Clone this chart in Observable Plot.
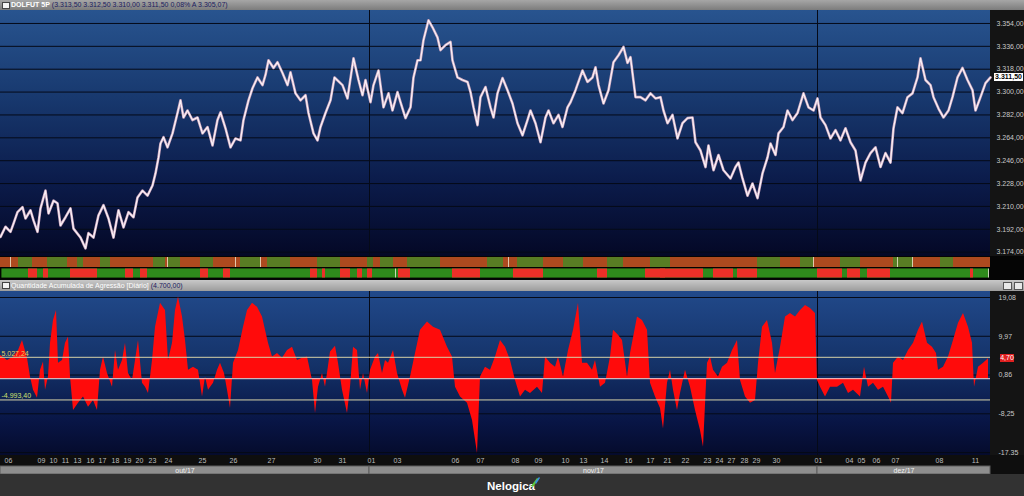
<!DOCTYPE html>
<html><head><meta charset="utf-8">
<script src="https://cdn.jsdelivr.net/npm/d3@7"></script>
<script src="https://cdn.jsdelivr.net/npm/@observablehq/plot@0.6"></script>
<style>
html,body{margin:0;padding:0;}
body{width:1024px;height:496px;background:#2f2f2f;overflow:hidden;font-family:"Liberation Sans",Arial,sans-serif;}
#wrap{position:relative;width:1024px;height:496px;}
.blk{position:absolute;left:0;width:1024px;}
#hdr{top:0;height:10px;background:linear-gradient(#a6a6a6,#7c7c7c);font-size:7px;line-height:10px;white-space:nowrap;}
#hdr2{top:280px;height:11px;background:linear-gradient(#c8c8c8,#9c9c9c);font-size:7px;line-height:11px;white-space:nowrap;}
.ico{position:absolute;left:2px;top:2px;width:6px;height:5px;background:#f4f4f4;border:1px solid #444;}
.ln{position:absolute;left:11px;top:0;}
#topbg{top:10px;height:246px;background:#141414;}
#topbg .g{position:absolute;left:0;top:0;width:990px;height:246px;background:linear-gradient(#28548f 0%,#18396f 35%,#0b1b4a 70%,#040826 100%);}
#stripbg{top:256px;height:24px;background:#050505;}
#lowbg{top:291px;height:164px;background:#141414;}
#lowbg .g{position:absolute;left:0;top:0;width:990px;height:164px;background:linear-gradient(#21498a 0%,#143268 45%,#081545 80%,#050b2c 100%);}
#axbg{top:455px;height:19px;background:#0e0e0e;}
#foot{top:474px;height:22px;background:#323232;}
.ov{position:absolute;left:0;top:0;}
.tag{position:absolute;font-size:7px;font-weight:bold;line-height:8px;height:8px;text-align:center;}
</style>
</head><body>
<div id="wrap">
  <div id="hdr" class="blk"><div class="ico"></div>
    <div class="ln"><span id="sym" style="color:#fff;font-weight:bold;"></span> <span id="hdrvals" style="color:#1c2060;"></span></div>
  </div>
  <div id="topbg" class="blk"><div class="g"></div><div id="topsvg" class="ov"></div></div>
  <div id="stripbg" class="blk"><div id="stripsvg" class="ov"></div></div>
  <div id="hdr2" class="blk"><div class="ico"></div>
    <div class="ln"><span id="aggtitle" style="color:#fff;"></span> <span id="aggval" style="color:#1c2060;"></span></div>
    <div style="position:absolute;left:1003px;top:2px;width:7px;height:6px;background:#e8e8e8;border:1px solid #555;"></div>
    <div style="position:absolute;left:1014px;top:2px;width:7px;height:6px;background:#e8e8e8;border:1px solid #555;"></div>
  </div>
  <div id="lowbg" class="blk"><div class="g"></div><div id="lowsvg" class="ov"></div></div>
  <div id="axbg" class="blk"><div id="axsvg" class="ov"></div></div>
  <div id="foot" class="blk">
    <span style="position:absolute;left:487px;top:6px;color:#fff;font-weight:bold;font-size:11.5px;">Nelogica</span>
    <svg style="position:absolute;left:530px;top:2px;" width="10" height="12"><polygon points="1,10 7,2 9,3 3,11" fill="#5cc83c"/><polygon points="5,6 9,1 10,2 6,8" fill="#3a8ee0"/></svg>
  </div>
</div>
<script>
// ---------- data ----------
const symbol = "DOLFUT 5P";
const quoteVals = [3313.5, 3312.5, 3310.0, 3311.5];
const quotePct = 0.08;
const quoteAvg = 3305.07;
const lastPrice = 3311.5;

const priceBar = [0,5,10,13,17,22,25,30,33,37,40,45,48,53,57,60,65,70,73,80,85,88,93,98,103,108,113,118,123,128,133,137,142,147,152,155,158,160,163,167,172,177,180,183,187,192,197,202,207,212,217,220,225,230,235,240,243,248,252,257,262,265,268,273,277,282,287,290,295,300,305,308,313,317,320,325,330,334,342,347,353,358,362,365,370,373,378,383,388,392,397,400,405,410,413,417,420,423,428,432,437,440,445,450,452,457,462,467,470,473,477,480,485,490,493,497,502,507,512,517,522,527,530,535,540,545,548,553,558,562,567,570,575,582,587,592,595,598,603,608,613,618,623,627,630,635,640,645,650,655,660,663,667,672,677,682,687,692,695,700,705,708,713,718,723,730,735,738,742,747,752,757,762,767,770,775,778,783,787,792,797,803,808,813,817,820,825,830,835,840,845,850,855,860,865,870,875,880,885,890,893,897,902,907,912,917,920,925,930,933,938,943,948,952,957,962,967,972,975,980,985,990];
const priceVal = [3186,3194,3190,3196.5,3205.5,3209.5,3200.5,3207,3199,3190,3208.5,3222.5,3204.5,3214.5,3212.5,3195,3201.5,3208.5,3192.5,3185.5,3177,3189,3185.5,3203,3211,3200.5,3185.5,3207,3193.5,3205.5,3201.5,3217,3222.5,3218.5,3226.5,3236,3248.5,3259.5,3264.5,3256.5,3267.5,3283.5,3293.5,3280,3285.5,3278,3280,3267.5,3272.5,3258,3278,3284,3271.5,3256.5,3263.5,3262,3278,3293.5,3303,3311.5,3305.5,3313.5,3325,3319,3323.5,3315,3305.5,3315.5,3299,3293.5,3297.5,3283.5,3267.5,3262,3272.5,3283.5,3293.5,3311.5,3305.5,3295,3326.5,3309.5,3297.5,3309.5,3292,3305.5,3317,3288,3299,3285.5,3300,3292,3279.5,3288,3311.5,3325,3325,3341,3356.5,3351,3343,3333,3337,3339.5,3325,3311.5,3309.5,3308,3300,3288,3274,3296,3304,3288,3280,3299,3311,3301.5,3291,3275.5,3266,3278,3285.5,3275.5,3260.5,3280,3285.5,3275.5,3282,3272.5,3288,3292,3301.5,3317,3308,3311.5,3319.5,3305.5,3291,3301.5,3323.5,3329,3335.5,3323,3327.5,3296,3296,3293.5,3299,3295,3296,3285.5,3275.5,3282,3263.5,3275.5,3279.5,3280,3260.5,3254,3241,3258,3238.5,3250.5,3238.5,3232,3241,3244.5,3232,3218.5,3228,3216.5,3236,3248.5,3259.5,3250.5,3267.5,3272.5,3285.5,3278,3283.5,3299,3288,3285.5,3295,3280,3274,3263.5,3270,3262,3271.5,3260.5,3254,3230.5,3244.5,3252,3256.5,3241,3252,3244.5,3271.5,3288,3283.5,3296,3299,3311.5,3326.5,3309.5,3305.5,3296,3287,3280,3285.5,3296,3311.5,3319,3309.5,3301.5,3285.5,3296,3307,3311.5];

const aggTitle = "Quantidade Acumulada de Agressão [Diário]";
const aggBar = [0,7,13,18,22,27,30,33,37,40,43,45,48,50,53,56,58,62,65,68,70,73,78,83,88,93,97,100,103,107,112,115,118,122,125,128,132,135,138,142,145,148,152,155,160,165,168,172,175,178,182,185,188,193,198,202,205,208,213,217,220,224,227,230,233,238,243,247,252,257,262,265,268,272,277,282,287,292,297,302,307,312,315,318,322,325,330,335,338,342,347,350,353,357,360,363,367,370,375,378,382,385,388,393,397,402,405,410,415,420,427,433,440,447,452,455,460,467,472,477,480,485,490,495,500,505,510,515,520,525,530,537,542,545,550,555,558,563,568,573,578,582,587,592,595,600,605,610,613,618,622,627,630,637,642,647,650,655,660,663,667,670,673,677,680,685,690,695,700,703,707,710,713,718,722,727,732,737,740,745,750,755,758,762,767,772,775,780,785,790,795,800,805,810,815,817,820,825,830,837,843,848,853,860,864,868,873,878,883,888,891,893,898,903,908,913,918,922,927,932,936,938,943,948,953,958,963,968,972,974,978,983,988];
const aggVal = [5.5,4.3,5.1,6.6,9.0,4.8,0.4,-2.7,-4.6,2.0,3.9,-2.7,0.4,8.3,13.7,16.0,3.6,4.3,8.3,9.8,0.4,-7.5,-5.8,-4.3,-6.7,-5.1,-7.5,2.0,5.1,1.2,-2.0,6.6,2.0,4.3,8.3,1.2,-0.4,4.3,9.0,-1.1,-2.0,-3.5,4.3,12.1,17.7,16.0,4.3,8.3,16.0,19.2,14.5,9.0,2.0,2.7,2.0,-4.3,0.4,-2.7,-1.1,2.0,3.6,1.2,-2.7,-7.0,3.6,6.6,12.1,16.0,17.7,16.8,14.5,11.4,8.3,5.1,5.9,4.8,6.6,7.4,4.3,4.8,5.1,-0.4,-8.2,-2.0,1.2,-2.0,6.3,7.6,3.6,-2.7,-8.2,-2.0,7.4,6.6,-2.7,1.2,-3.5,2.0,5.1,5.9,1.2,4.3,3.6,6.6,1.2,-2.7,-4.6,0.4,5.9,11.4,13.3,12.1,11.4,7.4,5.1,-2.0,-4.3,-5.8,-9.8,-17.6,0.4,2.7,2.0,5.1,9.0,7.4,4.3,-0.4,-4.3,-2.7,-3.5,-2.0,-3.5,5.1,3.6,2.7,5.1,0.4,6.6,11.4,17.7,3.6,3.6,2.0,4.3,-2.0,-1.1,5.1,11.4,10.2,9.0,0.4,5.9,14.5,13.7,11.4,-1.1,-4.3,-7.0,-11.8,-1.1,2.0,-2.7,-7.5,-3.5,2.0,-2.0,-7.5,-12.2,-16.1,3.6,5.1,2.0,0.4,2.7,3.6,6.6,9.0,-0.4,-4.3,-5.8,-5.1,3.6,12.1,13.7,8.3,1.2,7.4,14.5,15.3,14.5,16.0,17.2,16.5,15.3,-0.4,-2.0,-4.3,-2.0,-2.0,-1.1,-3.5,-2.7,-4.3,2.7,-2.0,-1.1,-2.7,-2.0,-4.3,-5.8,3.6,5.1,4.3,6.6,8.3,11.4,13.3,8.3,7.4,5.9,2.0,2.7,5.1,9.0,13.0,15.3,12.1,8.3,-2.0,2.7,3.6,4.7];
const aggLast = 4700.00;
const aggBands = [5027.24, -4993.40];

const priceTicks = [3174,3192,3210,3228,3246,3264,3282,3300,3318,3336,3354];
const aggTicks = [19.08, 9.97, 0.86, -8.25, -17.35];

const dayPos = [8,41,53,65,77,90,102,115,127,139,152,168,202,233,271,317,342,371,397,455,480,515,538,565,583,604,628,650,667,685,707,719,731,744,756,776,818,849,861,876,895,939,975];
const dayLab = ["06","09","10","11","13","16","17","18","19","20","23","24","25","26","27","30","31","01","03","06","07","08","09","10","13","14","16","17","21","22","23","24","27","28","29","30","01","04","05","06","07","08","11"];
const monthStart = [0,369,817];
const monthEnd = [369,817,990];
const monthLab = ["out/17","nov/17","dez/17"];

const stripTopGreenS = [18,47,77,100,153,168,200,240,267,317,330,367,380,407,487,517,563,607,650,660,757,800,840,893,940];
const stripTopGreenE = [32,67,83,110,165,180,213,260,290,333,340,373,393,440,503,543,583,623,665,670,780,813,860,913,953];
const stripTopTicks = [10,167,235,260,508,813,897,912];
const stripBotRedS = [28,43,70,125,140,200,223,310,322,340,357,367,398,452,513,597,645,660,713,737,817,847,867,970];
const stripBotRedE = [37,48,97,133,147,208,230,317,325,350,362,372,410,480,543,607,665,703,733,757,842,860,890,973];
const stripBotTicks = [395,988];

// ---------- helpers ----------
const loc = d3.formatLocale({decimal:",", thousands:".", grouping:[3], currency:["",""], minus:"-"});
const fmt = loc.format(",.2f");
const font = "Liberation Sans, Arial, sans-serif";
const X = {domain:[0,990], axis:null};
const price = priceBar.map((i,k)=>({i, p:priceVal[k]}));
const agg = aggBar.map((i,k)=>({i, v:aggVal[k]}));
const months = monthStart.map((s,k)=>({s, e:monthEnd[k], lab:monthLab[k]}));
const days = dayPos.map((i,k)=>({i, lab:dayLab[k]}));

document.getElementById("sym").textContent = symbol;
document.getElementById("hdrvals").textContent =
  "(" + quoteVals.map(fmt).join("  ") + "  " + fmt(quotePct) + "%  A " + fmt(quoteAvg) + ")";
document.getElementById("aggtitle").textContent = aggTitle;
document.getElementById("aggval").textContent = "(" + fmt(aggLast) + ")";

// ---------- top price panel ----------
const topH = 246;
const topPlot = Plot.plot({
  width:1024, height:topH, marginLeft:0, marginRight:34, marginTop:0, marginBottom:0,
  x:X, y:{domain:[3170.6, 3364.2], axis:null, label:null},
  style:{background:"transparent", fontFamily:font, overflow:"visible"},
  marks:[
    Plot.ruleY(priceTicks, {stroke:"#050a18", strokeWidth:1}),
    Plot.ruleX(monthStart.slice(1), {stroke:"#050a18", strokeWidth:1}),
    Plot.line(price, {x:"i", y:"p", stroke:"#caa6bd", strokeWidth:2.6}),
    Plot.line(price, {x:"i", y:"p", stroke:"#fbf2f8", strokeWidth:1.2}),
    Plot.axisY(priceTicks, {anchor:"right", label:null, tickSize:0, tickPadding:6, tickFormat:fmt, fill:"#c8c8c8", fontSize:7})
  ]
});
document.getElementById("topsvg").appendChild(topPlot);
{
  const y = topPlot.scale("y").apply(lastPrice);
  const t = document.createElement("div");
  t.className = "tag";
  t.style.cssText += `left:994px;top:${y-4}px;width:29px;background:#fff;color:#000;`;
  t.textContent = fmt(lastPrice);
  document.getElementById("topbg").appendChild(t);
}

// ---------- strips ----------
const stripPlot = Plot.plot({
  width:1024, height:24, margin:0, marginRight:34,
  x:X, y:{domain:[0,24], axis:null},
  style:{background:"transparent"},
  marks:[
    Plot.rect([0], {x1:0, x2:990, y1:13, y2:23, fill:"#ad4a1f"}),
    Plot.rect(stripTopGreenS.map((s,k)=>({s,e:stripTopGreenE[k]})), {x1:"s", x2:"e", y1:13, y2:23, fill:"#587d24"}),
    Plot.rect(stripTopTicks, {x1:d=>d, x2:d=>d+0.8, y1:13, y2:23, fill:"#f0e8d0"}),
    Plot.rect([0], {x1:1, x2:989, y1:2, y2:12, fill:"#2f8a1c", stroke:"#000", strokeWidth:0.8}),
    Plot.rect(stripBotRedS.map((s,k)=>({s,e:stripBotRedE[k]})), {x1:"s", x2:"e", y1:2.5, y2:11.5, fill:"#ec3028"}),
    Plot.rect(stripBotTicks, {x1:d=>d, x2:d=>d+0.8, y1:2.5, y2:11.5, fill:"#f0f0e0"})
  ]
});
document.getElementById("stripsvg").appendChild(stripPlot);

// ---------- lower aggression panel ----------
const lowPlot = Plot.plot({
  width:1024, height:164, marginLeft:0, marginRight:34, marginTop:0, marginBottom:0,
  x:X, y:{domain:[-18.05, 20.49], axis:null, label:null},
  style:{background:"transparent", fontFamily:font, overflow:"visible"},
  marks:[
    Plot.ruleY(aggTicks, {stroke:"#050a18", strokeWidth:1}),
    Plot.ruleX(monthStart.slice(1), {stroke:"#050a18", strokeWidth:1}),
    Plot.areaY(agg, {x:"i", y:"v", fill:"#ff0b0b"}),
    Plot.ruleY([0], {stroke:"#f0d4d4", strokeWidth:1}),
    Plot.ruleY(aggBands.map(d=>d/1000), {stroke:"#d8d2a8", strokeWidth:1}),
    Plot.text([aggBands[0]], {x:0, y:d=>d/1000, text:d=>fmt(d), textAnchor:"start", dx:1, dy:-4, fill:"#e8d060", fontSize:7}),
    Plot.text([aggBands[1]], {x:0, y:d=>d/1000, text:d=>fmt(d), textAnchor:"start", dx:1, dy:-4, fill:"#cfe070", fontSize:7}),
    Plot.axisY(aggTicks, {anchor:"right", label:null, tickSize:0, tickPadding:8, tickFormat:fmt, fill:"#c8c8c8", fontSize:7})
  ]
});
document.getElementById("lowsvg").appendChild(lowPlot);
{
  const v = aggLast/1000;
  const y = lowPlot.scale("y").apply(v);
  const t = document.createElement("div");
  t.className = "tag";
  t.style.cssText += `left:1000px;top:${y-4}px;width:14px;background:#e02020;color:#fff;font-weight:normal;`;
  t.textContent = fmt(v);
  document.getElementById("lowbg").appendChild(t);
}

// ---------- x axis ----------
const axPlot = Plot.plot({
  width:1024, height:19, margin:0, marginRight:34,
  x:X, y:{domain:[0,19], axis:null},
  style:{background:"transparent", fontFamily:font, overflow:"visible"},
  marks:[
    Plot.rect(months, {x1:"s", x2:"e", y1:0, y2:8, fill:"#8e8e8e", stroke:"#5c5c5c", strokeWidth:1}),
    Plot.text(months, {x:d=>(d.s+d.e)/2, y:4, text:"lab", fill:"#f2f2f2", fontSize:7}),
    Plot.text(days, {x:"i", y:13.5, text:"lab", fill:"#bdbdbd", fontSize:7})
  ]
});
document.getElementById("axsvg").appendChild(axPlot);
</script>
</body></html>
